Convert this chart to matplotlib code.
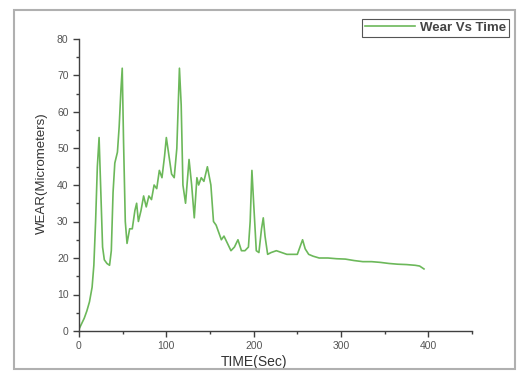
import matplotlib
matplotlib.use("Agg")
import matplotlib.pyplot as plt
from matplotlib.ticker import MultipleLocator
from matplotlib.patches import Rectangle

time_sec = [0, 3, 6, 9, 12, 15, 17, 19, 21, 23, 25, 27, 29, 32, 35, 37, 39, 41, 44, 46, 48, 49.5, 51, 53, 55,
            58, 61, 64, 66, 68, 71, 74, 77, 80, 83, 86, 89, 92, 95, 98, 100, 103, 106, 109, 112, 115, 117, 119,
            122, 126, 129, 132, 135, 137, 140, 143, 147, 151, 154, 157, 160, 163, 166, 170, 174, 178, 182, 186,
            190, 194, 196, 198, 200, 203, 206, 209, 211, 213, 216, 220, 226, 232, 238, 244, 250, 253, 256, 259,
            263, 268, 275, 285, 295, 305, 315, 325, 335, 345, 355, 365, 375, 385, 390, 395]
wear_um = [0.5, 2, 3.5, 5.5, 8, 12, 18, 30, 45, 53, 38, 23, 19.5, 18.5, 18, 22, 38, 46, 49, 56, 66, 72, 52, 30, 24,
           28, 28, 33, 35, 30, 33, 37, 34, 37, 36, 40, 39, 44, 42, 48, 53, 48, 43, 42, 50, 72, 62, 40,
           35, 47, 40, 31, 42, 40, 42, 41, 45, 40, 30, 29, 27, 25, 26, 24, 22, 23, 25, 22,
           22, 23, 30, 44, 35, 22, 21.5, 28, 31, 26, 21, 21.5, 22, 21.5, 21, 21, 21, 23, 25, 22.5,
           21, 20.5, 20, 20, 19.8, 19.7, 19.3, 19, 19, 18.8, 18.5, 18.3, 18.2, 18, 17.8, 17]

x_ticks = [0, 100, 200, 300, 400]
y_ticks = [0, 10, 20, 30, 40, 50, 60, 70, 80]

plt.rcParams['font.family'] = ['Liberation Sans', 'DejaVu Sans']

fig = plt.figure(figsize=(5.18, 3.74), dpi=100)
fig.patch.set_facecolor('white')
fig.patches.append(Rectangle((14 / 518, 1 - 369 / 374), (515 - 14) / 518, (369 - 10) / 374,
                             transform=fig.transFigure, fill=False, edgecolor='#b0b0b0', linewidth=1.5))

ax = fig.add_axes([79 / 518, 1 - 331 / 374, (472 - 79) / 518, (331 - 39) / 374])
ax.plot(time_sec, wear_um, color='#6cb85a', linewidth=1.2, label='Wear Vs Time')

ax.set_xlim(0, 450)
ax.set_ylim(0, 80)
ax.set_xticks(x_ticks)
ax.set_yticks(y_ticks)
ax.xaxis.set_minor_locator(MultipleLocator(50))
ax.yaxis.set_minor_locator(MultipleLocator(5))
ax.spines['top'].set_visible(False)
ax.spines['right'].set_visible(False)
for s in ('left', 'bottom'):
    ax.spines[s].set_color('#404040')
    ax.spines[s].set_linewidth(1.0)
ax.tick_params(axis='both', which='major', direction='out', length=4, width=1, colors='#404040',
               labelsize=7.5, labelcolor='#555555')
ax.tick_params(axis='both', which='minor', direction='out', length=2, width=1, colors='#404040')

ax.set_xlabel('TIME(Sec)', fontsize=10, color='#333333')
ax.set_ylabel('WEAR(Micrometers)', fontsize=9.5, color='#333333')
ax.xaxis.set_label_coords(200 / 450, -(362 - 331) / 292, transform=ax.transAxes)
ax.yaxis.set_label_coords(-(79 - 42) / 393, (331 - 173) / 292, transform=ax.transAxes)
ax.xaxis.label.set_va('center')
ax.yaxis.label.set_va('center')

leg = ax.legend(loc='upper right', bbox_to_anchor=(509 / 518, 1 - 19 / 374), bbox_transform=fig.transFigure,
                fancybox=False, framealpha=1, edgecolor='#555555', fontsize=9.5, handlelength=3.8,
                borderpad=0.2, handletextpad=0.4, borderaxespad=0)
leg.get_frame().set_linewidth(0.8)
for t in leg.get_texts():
    t.set_fontweight('bold')
    t.set_color('#444444')

fig.savefig('out.png', dpi=100)
